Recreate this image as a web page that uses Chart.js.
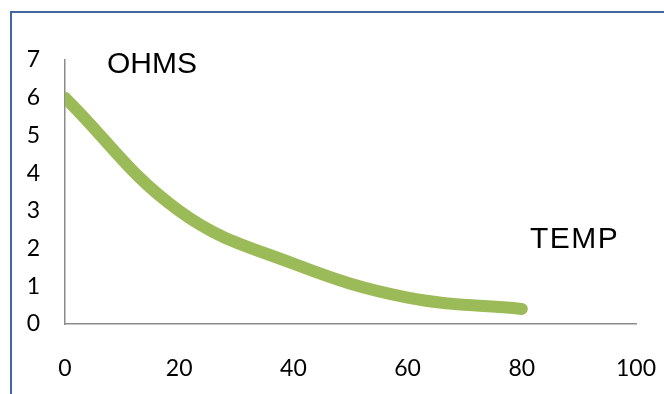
<!DOCTYPE html>
<html>
<head>
<meta charset="utf-8">
<script src="https://cdn.jsdelivr.net/npm/chart.js@4"></script>
<style>
    html, body {
        margin: 0;
        padding: 0;
        background: #ffffff;
        overflow: hidden;
    }
    #wrap {
        position: relative;
        width: 664px;
        height: 394px;
    }
    #frame {
        position: absolute;
        left: 10px;
        top: 11px;
        width: 700px;
        height: 420px;
        border-top: 2px solid #41679c;
        border-left: 2px solid #41679c;
    }
    .lbl {
        position: absolute;
        font-family: "Liberation Sans", Arial, sans-serif;
        font-size: 30px;
        line-height: 30px;
        color: #000000;
        white-space: nowrap;
    }
    #ohms { left: 107px; top: 48px; }
    #temp { left: 530px; top: 223px; letter-spacing: 1.5px; }
    canvas { position: absolute; left: 0; top: 0; }
</style>
</head>
<body>
<div id="wrap">
    <div id="frame"></div>
    <canvas id="chart" width="664" height="394"></canvas>
    <div class="lbl" id="ohms">OHMS</div>
    <div class="lbl" id="temp">TEMP</div>
</div>
<script>
// values
const temps = [0, 20, 40, 60, 80];
const ohms = [6, 3, 1.6, 0.7, 0.4];
const xTicks = [0, 20, 40, 60, 80, 100];
const yTicks = [0, 1, 2, 3, 4, 5, 6, 7];

const tickFont = { family: "Lato, 'Open Sans', sans-serif", size: 23 };
const axisColor = "#8c8c8c";

const ctx = document.getElementById("chart").getContext("2d");

new Chart(ctx, {
    type: "line",
    data: {
        datasets: [{
            label: "OHMS",
            data: temps.map((t, i) => ({ x: t, y: ohms[i] })),
            borderColor: "#9bbb59",
            borderWidth: 12,
            borderCapStyle: "round",
            borderJoinStyle: "round",
            tension: 0.4,
            pointRadius: 0,
            fill: false,
            clip: 0
        }]
    },
    options: {
        responsive: false,
        animation: false,
        layout: {
            padding: { left: 0, top: 60, right: 28, bottom: 0 }
        },
        plugins: {
            legend: { display: false },
            tooltip: { enabled: false }
        },
        scales: {
            x: {
                type: "linear",
                min: xTicks[0],
                max: xTicks[xTicks.length - 1],
                afterBuildTicks: s => { s.ticks = xTicks.map(v => ({ value: v })); },
                afterFit: s => {
                    s.height = 70;
                    s.paddingLeft = 0;
                    s.paddingRight = 0;
                },
                grid: { display: false, drawTicks: false },
                border: { display: true, color: axisColor, width: 1.5 },
                ticks: { color: "#000000", font: tickFont, padding: 31, maxRotation: 0 }
            },
            y: {
                min: yTicks[0],
                max: yTicks[yTicks.length - 1],
                afterBuildTicks: s => { s.ticks = yTicks.map(v => ({ value: v })); },
                afterFit: s => { s.width = 65; },
                grid: { display: false, drawTicks: false },
                border: { display: true, color: axisColor, width: 1.5 },
                ticks: { color: "#000000", font: tickFont, padding: 25 }
            }
        }
    }
});
</script>
</body>
</html>
